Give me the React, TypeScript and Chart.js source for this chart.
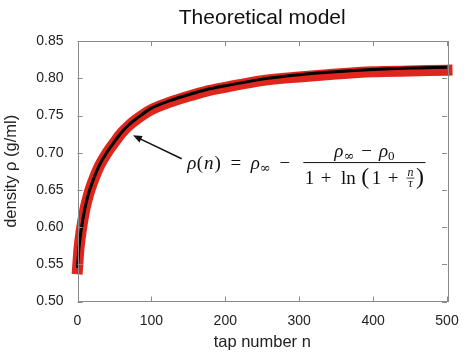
import React, { useEffect, useRef } from "react";
import { Chart, registerables } from "chart.js";

Chart.register(...registerables);

// ---- data ----
const tapNumbers = [0, 2, 5, 10, 15, 20, 30, 40, 50, 60, 70, 80, 100, 125, 150, 175, 200, 250, 300, 350, 400, 450, 500];
const measuredDensity = [0.544, 0.571, 0.595, 0.624, 0.644, 0.659, 0.683, 0.700, 0.714, 0.727, 0.737, 0.745, 0.758, 0.768, 0.776, 0.783, 0.788, 0.797, 0.802, 0.806, 0.809, 0.810, 0.811];
const modelDensity = [0.545, 0.572, 0.596, 0.625, 0.645, 0.660, 0.684, 0.701, 0.715, 0.728, 0.738, 0.746, 0.760, 0.770, 0.778, 0.785, 0.790, 0.799, 0.805, 0.809, 0.812, 0.814, 0.815];
const xTickValues = [0, 100, 200, 300, 400, 500];
const yTickValues = [0.5, 0.55, 0.6, 0.65, 0.7, 0.75, 0.8, 0.85];

const titleText = "Theoretical model";
const xAxisLabel = "tap number n";
const yAxisLabel = "density \u03c1 (g/ml)";

// annotation anchors (data coordinates)
const arrowTip = { n: 75, rho: 0.7234 };
const arrowTail = { n: 141, rho: 0.692 };
const formulaAnchor = { n: 147.7, rho: 0.6868 };

const SANS = "'Liberation Sans', Arial, Helvetica, sans-serif";
const SERIF = "'Liberation Serif', 'Times New Roman', serif";

type Seg = { t: string; f: string; dy?: number; gap?: number; frac?: [string, string] };

const IT = `italic 19px ${SERIF}`;
const RM = `19px ${SERIF}`;
const SUB = `13px 'DejaVu Serif', serif`;
const SUBRM = `13px ${SERIF}`;
const BIG = `24px ${SERIF}`;
const SMALLIT = `italic 12px ${SERIF}`;

function segWidth(ctx: CanvasRenderingContext2D, s: Seg): number {
  if (s.frac) {
    ctx.font = SMALLIT;
    return Math.max(ctx.measureText(s.frac[0]).width, ctx.measureText(s.frac[1]).width) + 2 + (s.gap || 0);
  }
  ctx.font = s.f;
  return ctx.measureText(s.t).width + (s.gap || 0);
}

function runWidth(ctx: CanvasRenderingContext2D, segs: Seg[]) {
  return segs.reduce((a, s) => a + segWidth(ctx, s), 0);
}

function drawRun(ctx: CanvasRenderingContext2D, segs: Seg[], x: number, base: number) {
  let cx = x;
  for (const s of segs) {
    const w = segWidth(ctx, s);
    if (s.frac) {
      ctx.font = SMALLIT;
      const g = s.gap || 0;
      const bw = w - g;
      const bx = cx + g / 2;
      const midY = base - 6;
      ctx.textAlign = "center";
      ctx.fillText(s.frac[0], bx + bw / 2, midY - 2);
      ctx.fillText(s.frac[1], bx + bw / 2, midY + 8.5);
      ctx.textAlign = "left";
      ctx.fillRect(bx, midY - 0.4, bw, 0.8);
    } else {
      ctx.font = s.f;
      ctx.fillText(s.t, cx + (s.gap || 0) / 2, base + (s.dy || 0));
    }
    cx += w;
  }
  return cx;
}

const annotationPlugin = {
  id: "frameAndAnnotation",
  afterDraw(chart: any) {
    const ctx: CanvasRenderingContext2D = chart.ctx;
    const { left, right, top, bottom } = chart.chartArea;
    const xs = chart.scales.x;
    const ys = chart.scales.y;
    ctx.save();
    // frame
    ctx.strokeStyle = "#8a8a8a";
    ctx.lineWidth = 1;
    ctx.strokeRect(Math.round(left) + 0.5, Math.round(top) + 0.5, Math.round(right - left), Math.round(bottom - top));
    // inward ticks
    const tl = 5;
    ctx.beginPath();
    for (const v of xTickValues) {
      const px = Math.round(xs.getPixelForValue(v)) + 0.5;
      ctx.moveTo(px, bottom);
      ctx.lineTo(px, bottom - tl);
      ctx.moveTo(px, top);
      ctx.lineTo(px, top + tl);
    }
    for (const v of yTickValues) {
      const py = Math.round(ys.getPixelForValue(v)) + 0.5;
      ctx.moveTo(left, py);
      ctx.lineTo(left + tl, py);
      ctx.moveTo(right, py);
      ctx.lineTo(right - tl, py);
    }
    ctx.stroke();

    // arrow
    const tx = xs.getPixelForValue(arrowTip.n);
    const ty = ys.getPixelForValue(arrowTip.rho);
    const sx = xs.getPixelForValue(arrowTail.n);
    const sy = ys.getPixelForValue(arrowTail.rho);
    const ang = Math.atan2(ty - sy, tx - sx);
    const hl = 9, hw = 3.5;
    ctx.strokeStyle = "#111";
    ctx.fillStyle = "#111";
    ctx.lineWidth = 1.5;
    ctx.beginPath();
    ctx.moveTo(sx, sy);
    ctx.lineTo(tx - Math.cos(ang) * (hl - 1), ty - Math.sin(ang) * (hl - 1));
    ctx.stroke();
    ctx.beginPath();
    ctx.moveTo(tx, ty);
    ctx.lineTo(tx - Math.cos(ang) * hl - Math.sin(ang) * hw, ty - Math.sin(ang) * hl + Math.cos(ang) * hw);
    ctx.lineTo(tx - Math.cos(ang) * hl + Math.sin(ang) * hw, ty - Math.sin(ang) * hl - Math.cos(ang) * hw);
    ctx.closePath();
    ctx.fill();

    // formula
    const fx = xs.getPixelForValue(formulaAnchor.n);
    const bar = ys.getPixelForValue(formulaAnchor.rho);
    ctx.fillStyle = "#111";
    ctx.textBaseline = "alphabetic";
    ctx.textAlign = "left";
    const lhs: Seg[] = [
      { t: "\u03c1", f: IT, gap: 1 },
      { t: "(", f: RM },
      { t: "n", f: IT, gap: 2 },
      { t: ")", f: RM },
      { t: "=", f: RM, gap: 19 },
      { t: "\u03c1", f: IT },
      { t: "\u221e", f: SUB, dy: 3 },
      { t: "\u2212", f: RM, gap: 18 },
    ];
    const endX = drawRun(ctx, lhs, fx, bar + 6.4);
    const num: Seg[] = [
      { t: "\u03c1", f: IT },
      { t: "\u221e", f: SUB, dy: 3 },
      { t: "\u2212", f: RM, gap: 14 },
      { t: "\u03c1", f: IT },
      { t: "0", f: SUBRM, dy: 3 },
    ];
    const den: Seg[] = [
      { t: "1", f: RM },
      { t: "+", f: RM, gap: 13 },
      { t: "ln", f: RM, gap: 6 },
      { t: "(", f: BIG, gap: 5 },
      { t: "1", f: RM },
      { t: "+", f: RM, gap: 13 },
      { t: "", f: RM, frac: ["n", "\u03c4"], gap: 3 },
      { t: ")", f: BIG },
    ];
    const fracLeft = endX + 4;
    const nw = runWidth(ctx, num);
    const dw = runWidth(ctx, den);
    const fw = Math.max(nw, dw) + 3;
    ctx.fillRect(fracLeft, bar - 0.5, fw, 1);
    drawRun(ctx, num, fracLeft + (fw - nw) / 2, bar - 6);
    drawRun(ctx, den, fracLeft + (fw - dw) / 2, bar + 21.5);
    ctx.restore();
  },
};

export default function App() {
  const ref = useRef<HTMLCanvasElement | null>(null);
  useEffect(() => {
    if (!ref.current) return;
    const chart = new Chart(ref.current, {
      type: "line",
      data: {
        datasets: [
          {
            label: "model",
            data: tapNumbers.map((n, i) => ({ x: n, y: modelDensity[i] })),
            borderColor: "#000000",
            borderWidth: 3,
            pointRadius: 0,
            cubicInterpolationMode: "monotone",
            order: 0,
            clip: 8,
          },
          {
            label: "data",
            data: tapNumbers.map((n, i) => ({ x: n, y: measuredDensity[i] })),
            borderColor: "rgb(222,38,28)",
            borderWidth: 11,
            borderCapStyle: "square",
            pointRadius: 0,
            cubicInterpolationMode: "monotone",
            order: 1,
            clip: 8,
          },
        ],
      },
      options: {
        animation: false,
        responsive: false,
        events: [],
        layout: { padding: { left: 0, right: 24, top: 0, bottom: 0 } },
        plugins: {
          legend: { display: false },
          tooltip: { enabled: false },
          title: {
            display: true,
            text: titleText,
            fullSize: false,
            color: "#111",
            font: { family: SANS, size: 21, weight: "normal" },
            padding: { top: 6, bottom: 10 },
          },
        },
        scales: {
          x: {
            type: "linear",
            min: 0,
            max: 500,
            afterBuildTicks: (s: any) => {
              s.ticks = xTickValues.map((v) => ({ value: v }));
            },
            afterFit: (s: any) => {
              s.height = 57.5;
            },
            grid: { display: false, drawTicks: false },
            border: { display: false },
            ticks: {
              color: "#222",
              padding: 11,
              maxRotation: 0,
              font: { family: SANS, size: 14 },
              callback: (v: any) => String(v),
            },
            title: {
              display: true,
              text: xAxisLabel,
              color: "#222",
              font: { family: SANS, size: 16.5 },
              padding: { top: 0, bottom: 7 },
            },
          },
          y: {
            type: "linear",
            min: 0.5,
            max: 0.85,
            afterBuildTicks: (s: any) => {
              s.ticks = yTickValues.map((v) => ({ value: v }));
            },
            afterFit: (s: any) => {
              s.width = 77.5;
            },
            grid: { display: false, drawTicks: false },
            border: { display: false },
            ticks: {
              color: "#222",
              padding: 14,
              font: { family: SANS, size: 14 },
              callback: (v: any) => Number(v).toFixed(2),
            },
            title: {
              display: true,
              text: yAxisLabel,
              color: "#222",
              font: { family: SANS, size: 16.5 },
              padding: { top: 2, bottom: 0 },
            },
          },
        },
      },
      plugins: [annotationPlugin],
    } as any);
    return () => chart.destroy();
  }, []);
  return (
    <div style={{ position: "fixed", left: 0, top: 0, width: 471, height: 359, background: "#fff" }}>
      <canvas ref={ref} width={471} height={359} style={{ display: "block" }} />
    </div>
  );
}
